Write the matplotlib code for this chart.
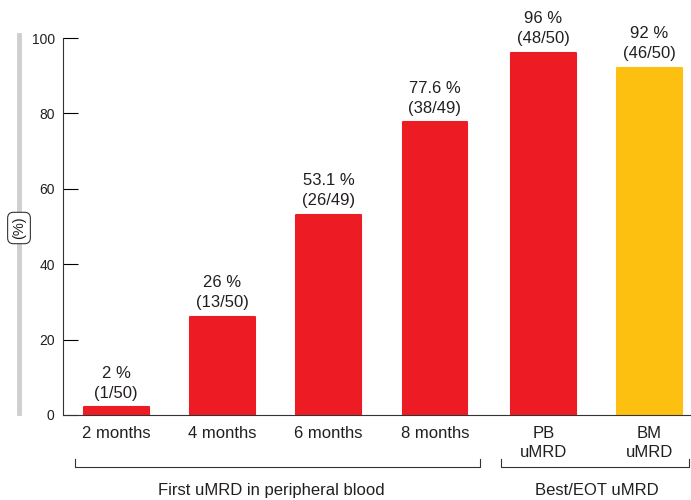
import matplotlib
matplotlib.use('Agg')
import matplotlib.pyplot as plt
from matplotlib.lines import Line2D

plt.rcParams['font.family'] = ['Liberation Sans', 'DejaVu Sans']

# uMRD rates
categories = ['2 months', '4 months', '6 months', '8 months', 'PB\nuMRD', 'BM\nuMRD']
values = [2, 26, 53.1, 77.6, 96, 92]
value_text = ['2 %', '26 %', '53.1 %', '77.6 %', '96 %', '92 %']
counts = ['(1/50)', '(13/50)', '(26/49)', '(38/49)', '(48/50)', '(46/50)']
groups = ['First uMRD in peripheral blood', 'Best/EOT uMRD']
yticks = [0, 20, 40, 60, 80, 100]

red = '#ed1c24'
yellow = '#fdc010'
txt = '#231f20'
colors = [red, red, red, red, red, yellow]
x_pos = [0, 1, 2, 3, 4.02, 5.02]

fig = plt.figure(figsize=(6.91, 5.0), dpi=100)
ax = fig.add_axes([63 / 691, 85 / 500, 628 / 691, 377 / 500])

bars = ax.bar(x_pos, values, width=0.61, color=colors, edgecolor=colors,
              linewidth=1.5, joinstyle='round')

for xp, v, t, c in zip(x_pos, values, value_text, counts):
    ax.annotate(t + '\n' + c, (xp, v), xytext=(0, 5), textcoords='offset points',
                ha='center', va='bottom', fontsize=12, color=txt,
                linespacing=1.4, annotation_clip=False)

ax.set_xlim(-0.5, 5.41)
ax.set_ylim(0, 100)
ax.set_yticks(yticks)
ax.set_xticks(x_pos)
ax.set_xticklabels(categories, fontsize=12, color=txt, linespacing=1.3, va='top')
ax.tick_params(axis='x', length=0, pad=8)
ax.tick_params(axis='y', direction='in', length=11, width=0.8, labelsize=10,
               labelcolor=txt, pad=6)
for s in ['top', 'right']:
    ax.spines[s].set_visible(False)
for s in ['left', 'bottom']:
    ax.spines[s].set_linewidth(0.8)
    ax.spines[s].set_color('#333333')

# group brackets under the categories
trans = ax.get_xaxis_transform()
y_line = -0.138
y_tick = -0.117
for x0, x1 in [(-0.39, 3.42), (3.62, 5.39)]:
    ax.plot([x0, x0, x1, x1], [y_tick, y_line, y_line, y_tick], color='#333333',
            lw=0.8, transform=trans, clip_on=False)
ax.text(1.46, -0.2, groups[0], transform=trans, ha='center', va='center',
        fontsize=12, color=txt)
ax.text(4.52, -0.2, groups[1], transform=trans, ha='center', va='center',
        fontsize=12, color=txt)

# grey unit bar on the left
fig.add_artist(Line2D([19 / 691, 19 / 691], [1 - 35 / 500, 1 - 413 / 500],
                      color='#cfcfcf', lw=3.5, transform=fig.transFigure))
fig.text(19 / 691, 1 - 228 / 500, '(%)', rotation=90, ha='center', va='center',
         fontsize=10.5, color=txt,
         bbox=dict(boxstyle='round,pad=0.3,rounding_size=0.4', fc='white',
                   ec='#333333', lw=0.8))

fig.savefig('out.png', dpi=100)
